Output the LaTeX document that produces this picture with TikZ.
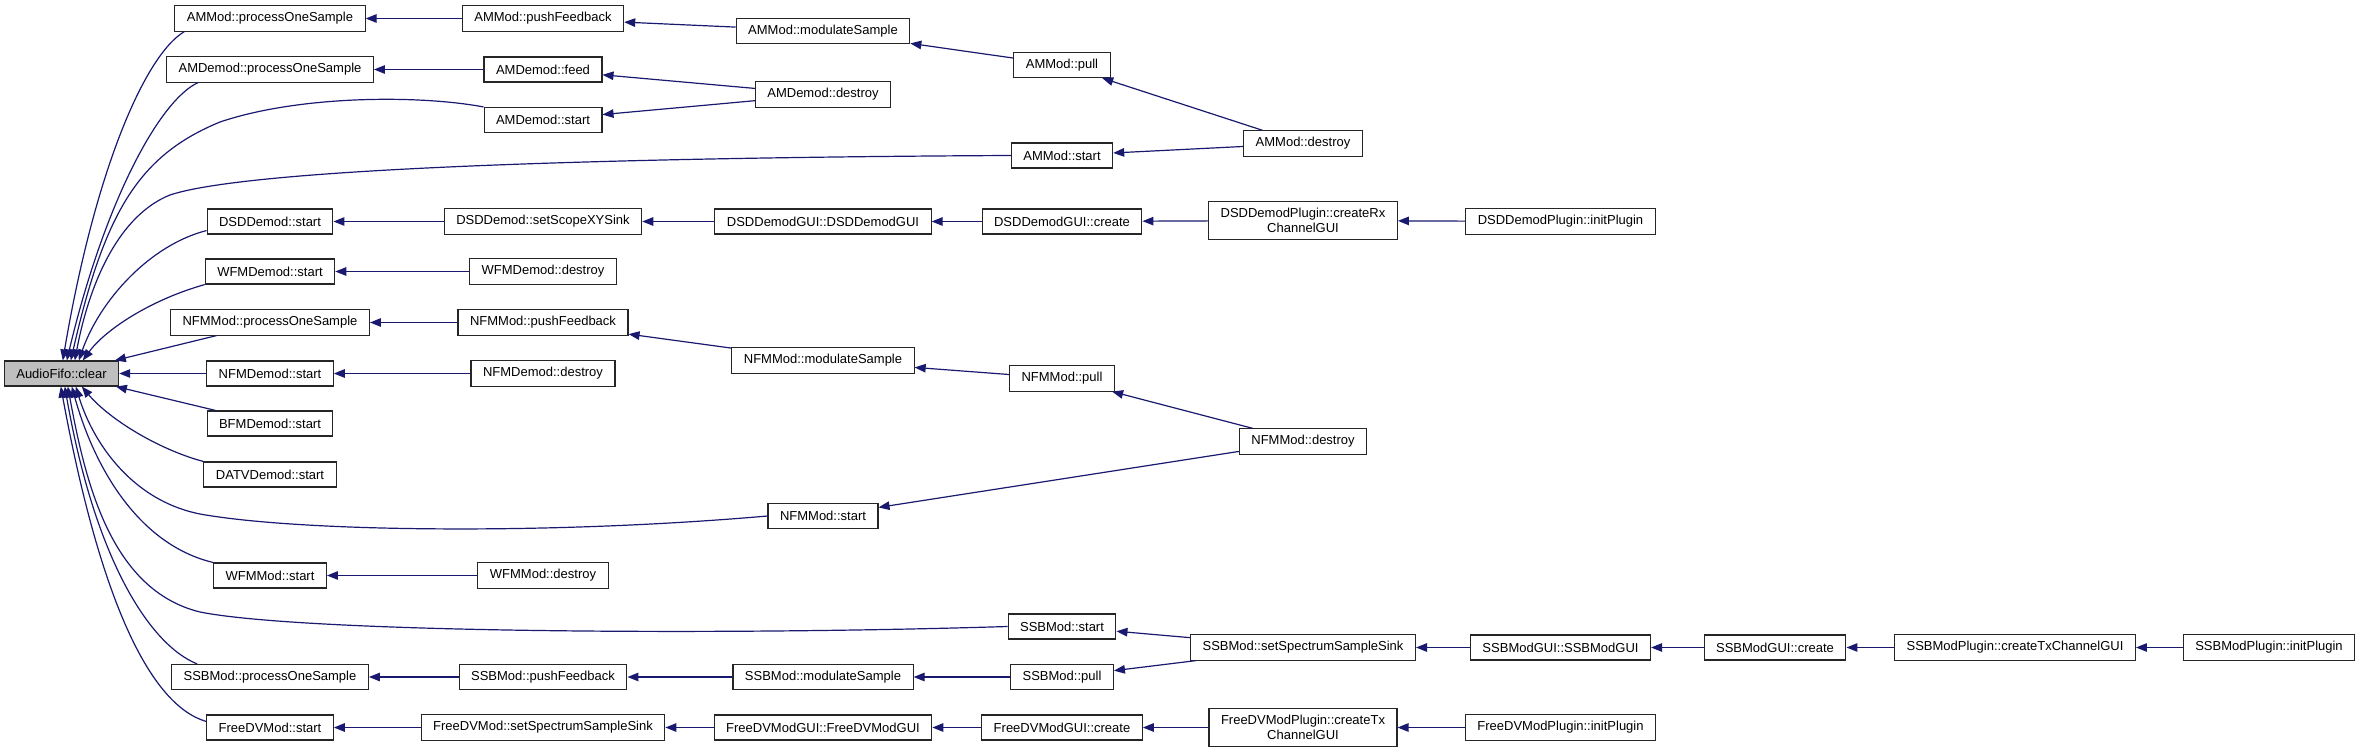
\documentclass[tikz,border=0pt]{standalone}
\usepackage{fontspec}
\setmainfont{Liberation Sans}
\usetikzlibrary{arrows.meta}
\definecolor{edgeblue}{HTML}{191970}
\definecolor{fifogray}{HTML}{BFBFBF}
\begin{document}
\begin{tikzpicture}[x=1pt,y=-1pt,
  box/.style={draw=black!85,line width=1.1pt,fill=white,inner xsep=12pt,inner ysep=6.5pt,
    minimum height=25pt,font=\fontsize{13}{15}\selectfont,align=center},
  arr/.style={draw=edgeblue,line width=1.2pt,-{Triangle[length=11pt,width=8.5pt]}}]
\useasboundingbox[fill=white] (0,0) rectangle (2360,754);

% rank 0
\node[box,fill=fifogray] (clear) at (61.5,373.5) {AudioFifo::clear};
% rank 1
\node[box] (ammpos) at (270,18.5) {AMMod::processOneSample};
\node[box] (amdpos) at (270,69.5) {AMDemod::processOneSample};
\node[box] (dsdstart) at (270,221.5) {DSDDemod::start};
\node[box] (wfmdstart) at (270,271.5) {WFMDemod::start};
\node[box] (nfmpos) at (270,322.5) {NFMMod::processOneSample};
\node[box] (nfmdstart) at (270,373.5) {NFMDemod::start};
\node[box] (bfmstart) at (270,423.5) {BFMDemod::start};
\node[box] (datvstart) at (270,474.5) {DATVDemod::start};
\node[box] (wfmstart) at (270,575.5) {WFMMod::start};
\node[box] (ssbpos) at (270,677) {SSBMod::processOneSample};
\node[box] (fdvstart) at (270,727.5) {FreeDVMod::start};
% rank 2
\node[box] (ammpf) at (543,18.5) {AMMod::pushFeedback};
\node[box] (amdfeed) at (543,69.5) {AMDemod::feed};
\node[box] (amdstart) at (543,120) {AMDemod::start};
\node[box] (dsdsink) at (543,221.5) {DSDDemod::setScopeXYSink};
\node[box] (wfmddestroy) at (543,271.5) {WFMDemod::destroy};
\node[box] (nfmpf) at (543,322.5) {NFMMod::pushFeedback};
\node[box] (nfmddestroy) at (543,373.5) {NFMDemod::destroy};
\node[box] (wfmdestroy) at (543,575.5) {WFMMod::destroy};
\node[box] (ssbpf) at (543,677) {SSBMod::pushFeedback};
\node[box] (fdvsink) at (543,727.5) {FreeDVMod::setSpectrumSampleSink};
% rank 3
\node[box] (ammms) at (823,31) {AMMod::modulateSample};
\node[box] (amddestroy) at (823,94.5) {AMDemod::destroy};
\node[box] (dsdgui) at (823,221.5) {DSDDemodGUI::DSDDemodGUI};
\node[box] (nfmms) at (823,360.5) {NFMMod::modulateSample};
\node[box] (nfmstart) at (823,516) {NFMMod::start};
\node[box] (ssbms) at (823,677) {SSBMod::modulateSample};
\node[box] (fdvgui) at (823,727.5) {FreeDVModGUI::FreeDVModGUI};
% rank 4
\node[box] (ammpull) at (1062,65) {AMMod::pull};
\node[box] (ammstart) at (1062,155.5) {AMMod::start};
\node[box] (dsdcreate) at (1062,221.5) {DSDDemodGUI::create};
\node[box] (nfmpull) at (1062,378.5) {NFMMod::pull};
\node[box] (ssbstart) at (1062,626.5) {SSBMod::start};
\node[box] (ssbpull) at (1062,677) {SSBMod::pull};
\node[box] (fdvcreate) at (1062,727.5) {FreeDVModGUI::create};
% rank 5
\node[box] (ammdestroy) at (1303,143.5) {AMMod::destroy};
\node[box] (dsdplug) at (1303,220.5) {DSDDemodPlugin::createRx\\ChannelGUI};
\node[box] (nfmdestroy) at (1303,441.5) {NFMMod::destroy};
\node[box] (ssbsink) at (1303,647.5) {SSBMod::setSpectrumSampleSink};
\node[box] (fdvplug) at (1303,727.5) {FreeDVModPlugin::createTx\\ChannelGUI};
% rank 6..9
\node[box] (dsdinit) at (1560.5,221.5) {DSDDemodPlugin::initPlugin};
\node[box] (ssbgui) at (1560.5,647.5) {SSBModGUI::SSBModGUI};
\node[box] (fdvinit) at (1560.5,727.5) {FreeDVModPlugin::initPlugin};
\node[box] (ssbcreate) at (1775,647.5) {SSBModGUI::create};
\node[box] (ssbplug) at (2015,647.5) {SSBModPlugin::createTxChannelGUI};
\node[box] (ssbinit) at (2269,647.5) {SSBModPlugin::initPlugin};

% edges into AudioFifo::clear (from above)
\draw[arr] ([xshift=10pt]ammpos.south west) .. controls (145,55) and (95,170) .. ([xshift=59pt]clear.north west);
\draw[arr] ([xshift=32pt]amdpos.south west) .. controls (160,100) and (105,200) .. ([xshift=63pt]clear.north west);
\draw[arr] (amdstart.north west) .. controls (420,95) and (300,95) .. (220,122) .. controls (140,155) and (105,210) .. ([xshift=67pt]clear.north west);
\draw[arr] (ammstart.west) .. controls (700,157) and (260,165) .. (170,195) .. controls (120,215) and (90,280) .. ([xshift=71pt]clear.north west);
\draw[arr] ([yshift=4pt]dsdstart.south west) .. controls (150,245) and (100,300) .. ([xshift=75pt]clear.north west);
\draw[arr] (wfmdstart.south west) .. controls (150,300) and (105,330) .. ([xshift=79pt]clear.north west);
\draw[arr] (nfmpos) -- (clear);
\draw[arr] (nfmdstart) -- (clear);
\draw[arr] (bfmstart) -- (clear);
% edges into AudioFifo::clear (from below)
\draw[arr] (datvstart.north west) .. controls (160,450) and (110,420) .. ([xshift=78pt]clear.south west);
\draw[arr] (nfmstart.west) .. controls (550,535) and (300,532) .. (200,514) .. controls (130,500) and (92,440) .. ([xshift=72pt]clear.south west);
\draw[arr] (wfmstart.north west) .. controls (140,545) and (95,470) .. ([xshift=68pt]clear.south west);
\draw[arr] (ssbstart.west) .. controls (700,636) and (300,632) .. (200,612) .. controls (110,590) and (85,480) .. ([xshift=64pt]clear.south west);
\draw[arr] ([xshift=26pt]ssbpos.north west) .. controls (150,645) and (95,560) .. ([xshift=61pt]clear.south west);
\draw[arr] ([yshift=-7pt]fdvstart.north west) .. controls (150,705) and (100,600) .. ([xshift=57pt]clear.south west);

% AM chain
\draw[arr] (ammpf) -- (ammpos);
\draw[arr] (ammms) -- (ammpf);
\draw[arr] (ammpull) -- (ammms);
\draw[arr] (ammdestroy) -- (ammpull);
\draw[arr] (ammdestroy) -- (ammstart);
\draw[arr] (amdfeed) -- (amdpos);
\draw[arr] (amddestroy) -- (amdfeed);
\draw[arr] (amddestroy) -- (amdstart);
% DSD chain
\draw[arr] (dsdsink) -- (dsdstart);
\draw[arr] (dsdgui) -- (dsdsink);
\draw[arr] (dsdcreate) -- (dsdgui);
\draw[arr] (dsdplug) -- (dsdcreate);
\draw[arr] (dsdinit) -- (dsdplug);
% WFM / NFM
\draw[arr] (wfmddestroy) -- (wfmdstart);
\draw[arr] (nfmpf) -- (nfmpos);
\draw[arr] (nfmms) -- (nfmpf);
\draw[arr] (nfmpull) -- (nfmms);
\draw[arr] (nfmdestroy) -- (nfmpull);
\draw[arr] (nfmdestroy) -- (nfmstart);
\draw[arr] (nfmddestroy) -- (nfmdstart);
\draw[arr] (wfmdestroy) -- (wfmstart);
% SSB chain
\draw[arr] (ssbsink) -- (ssbstart);
\draw[arr] (ssbsink) -- (ssbpull);
\draw[arr] (ssbpull) -- (ssbms);
\draw[arr] (ssbms) -- (ssbpf);
\draw[arr] (ssbpf) -- (ssbpos);
\draw[arr] (ssbgui) -- (ssbsink);
\draw[arr] (ssbcreate) -- (ssbgui);
\draw[arr] (ssbplug) -- (ssbcreate);
\draw[arr] (ssbinit) -- (ssbplug);
% FreeDV chain
\draw[arr] (fdvsink) -- (fdvstart);
\draw[arr] (fdvgui) -- (fdvsink);
\draw[arr] (fdvcreate) -- (fdvgui);
\draw[arr] (fdvplug) -- (fdvcreate);
\draw[arr] (fdvinit) -- (fdvplug);
\end{tikzpicture}
\end{document}
